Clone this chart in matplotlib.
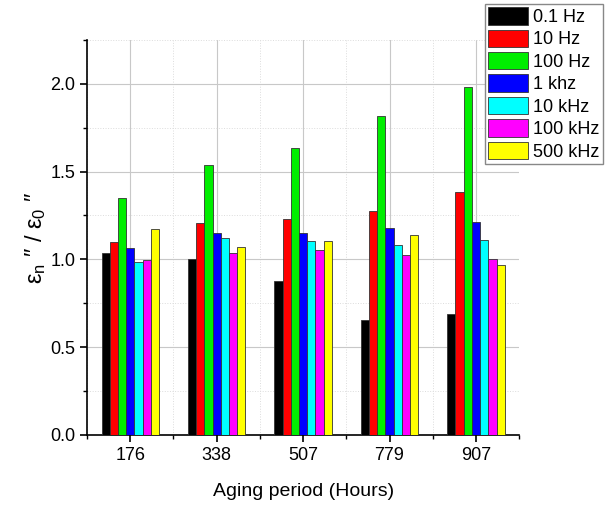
import numpy as np
import matplotlib.pyplot as plt
from matplotlib.ticker import MultipleLocator

plt.rcParams['font.family'] = ['Liberation Sans', 'DejaVu Sans']
plt.rcParams['mathtext.fontset'] = 'custom'
plt.rcParams['mathtext.rm'] = 'Liberation Sans'
plt.rcParams['mathtext.it'] = 'Liberation Sans'

# Aging periods (hours) and normalised loss values for each frequency
periods = ['176', '338', '507', '779', '907']
freqs = ['0.1 Hz', '10 Hz', '100 Hz', '1 khz', '10 kHz', '100 kHz', '500 kHz']
colors = ['#000000', '#ff0000', '#00ee00', '#0000ff', '#00ffff', '#ff00ff', '#ffff00']

f_01hz = [1.036, 1.000, 0.874, 0.653, 0.687]
f_10hz = [1.101, 1.204, 1.229, 1.276, 1.385]
f_100hz = [1.350, 1.539, 1.633, 1.819, 1.979]
f_1khz = [1.067, 1.147, 1.150, 1.177, 1.211]
f_10khz = [0.987, 1.124, 1.107, 1.082, 1.112]
f_100khz = [0.996, 1.034, 1.055, 1.025, 1.000]
f_500khz = [1.171, 1.069, 1.105, 1.137, 0.970]
series = [f_01hz, f_10hz, f_100hz, f_1khz, f_10khz, f_100khz, f_500khz]

fig = plt.figure(figsize=(6.13, 5.05), dpi=100)
ax = fig.add_axes([0.142, 0.139, 0.705, 0.782])

x = np.arange(len(periods))
w = 0.095
for i, (vals, c, lab) in enumerate(zip(series, colors, freqs)):
    ax.bar(x + (i - 3) * w, vals, w, color=c, edgecolor='#333333', linewidth=0.6,
           label=lab, zorder=3)

ax.set_xlim(-0.5, len(periods) - 0.5)
ax.set_ylim(0, 2.25)
ax.set_xticks(x)
ax.set_xticklabels(periods)
ax.set_xticks([-0.5, 0.5, 1.5, 2.5, 3.5, 4.5], minor=True)
ax.yaxis.set_major_locator(MultipleLocator(0.5))
ax.yaxis.set_minor_locator(MultipleLocator(0.25))
ax.yaxis.set_major_formatter(plt.FormatStrFormatter('%.1f'))

ax.grid(True, which='major', color='#c8c8c8', linewidth=0.8, zorder=0)
ax.grid(True, which='minor', color='#dcdcdc', linewidth=0.7, linestyle=':', zorder=0)
ax.set_axisbelow(True)

for s in ['top', 'right']:
    ax.spines[s].set_visible(False)
ax.spines['left'].set_linewidth(1.2)
ax.spines['bottom'].set_linewidth(1.2)
ax.tick_params(which='major', direction='out', length=5, width=1.2, labelsize=13)
ax.tick_params(which='minor', direction='out', length=3, width=1.0)

ax.set_xlabel('Aging period (Hours)', fontsize=14, labelpad=14)
ax.set_ylabel("ε$_\\mathregular{n}$ ″ / ε$_\\mathregular{0}$ ″", fontsize=17)
ax.yaxis.set_label_coords(-0.09, 0.5)

fig.legend(loc='upper right', bbox_to_anchor=(0.99, 1.0), fontsize=13,
           handlelength=2.2, handleheight=1.1, handletextpad=0.3,
           labelspacing=0.2, borderpad=0.2, borderaxespad=0.2,
           fancybox=False, framealpha=1, edgecolor='#888888')

fig.savefig('out.png', dpi=100)
